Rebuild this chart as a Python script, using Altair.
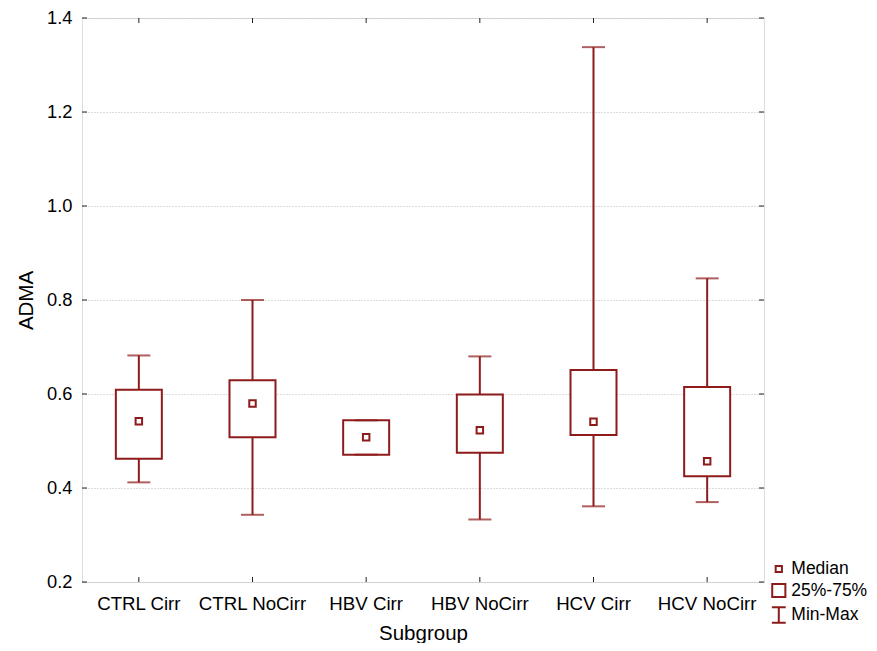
import altair as alt
import pandas as pd

# ---- data ----
groups = ["CTRL Cirr", "CTRL NoCirr", "HBV Cirr", "HBV NoCirr", "HCV Cirr", "HCV NoCirr"]
mins = [0.412, 0.343, 0.471, 0.333, 0.361, 0.370]
q1s = [0.462, 0.508, 0.471, 0.475, 0.513, 0.425]
medians = [0.542, 0.580, 0.508, 0.523, 0.541, 0.457]
q3s = [0.609, 0.629, 0.544, 0.599, 0.651, 0.615]
maxs = [0.682, 0.800, 0.544, 0.680, 1.338, 0.846]
y_ticks = [0.2, 0.4, 0.6, 0.8, 1.0, 1.2, 1.4]
legend_labels = ["Median", "25%-75%", "Min-Max"]

RED = "#8e1b1b"
FONT = "Liberation Sans"
W, H = 682, 564

df = pd.DataFrame({"group": groups, "min": mins, "q1": q1s, "median": medians,
                   "q3": q3s, "max": maxs})
ticks_df = pd.DataFrame({"v": y_ticks})
leg_df = pd.DataFrame({"item": legend_labels})

xenc = alt.X("group:N", sort=groups, title="Subgroup",
             scale=alt.Scale(paddingInner=0, paddingOuter=0),
             axis=alt.Axis(labelAngle=0, ticks=False, domain=False, grid=False,
                           labelFontSize=18.7, labelPadding=12, titleFontSize=20.5,
                           titleFontWeight="normal", titlePadding=11,
                           labelFont=FONT, titleFont=FONT, labelColor="black",
                           titleColor="black"))
yscale = alt.Scale(domain=[0.2, 1.4], nice=False, zero=False)
yaxis = alt.Axis(values=y_ticks, format=".1f", ticks=False, domain=False, grid=True,
                 gridDash=[1, 2], gridColor="#b8b8b8", gridWidth=1,
                 labelFontSize=18.3, labelPadding=10, titleFontSize=20.5,
                 titleFontWeight="normal", titlePadding=10, labelFont=FONT,
                 titleFont=FONT, labelColor="black", titleColor="black")

base = alt.Chart(df)

whisker = base.mark_rule(color=RED, strokeWidth=2).encode(
    x=xenc,
    y=alt.Y("min:Q", scale=yscale, axis=yaxis, title="ADMA"),
    y2="max:Q")

caps_hi = base.mark_tick(color=RED, size=23, thickness=2).encode(
    x=alt.X("group:N", sort=groups), y="max:Q")
caps_lo = base.mark_tick(color=RED, size=23, thickness=2).encode(
    x=alt.X("group:N", sort=groups), y="min:Q")

box = base.mark_bar(size=46, fill="white", stroke=RED, strokeWidth=2).encode(
    x=alt.X("group:N", sort=groups), y="q1:Q", y2="q3:Q")

med = base.mark_square(size=42, fill="white", stroke=RED, strokeWidth=2,
                       opacity=1).encode(
    x=alt.X("group:N", sort=groups), y="median:Q")

# inward ticks on the frame
tick_l = alt.Chart(ticks_df).mark_rule(color="#222", strokeWidth=1).encode(
    y="v:Q", x=alt.value(0), x2=alt.value(5))
tick_r = alt.Chart(ticks_df).mark_rule(color="#222", strokeWidth=1).encode(
    y="v:Q", x=alt.value(W), x2=alt.value(W - 5))
tick_b = base.mark_rule(color="#222", strokeWidth=1).encode(
    x=alt.X("group:N", sort=groups), y=alt.value(H), y2=alt.value(H - 5))
tick_t = base.mark_rule(color="#222", strokeWidth=1).encode(
    x=alt.X("group:N", sort=groups), y=alt.value(0), y2=alt.value(5))

shape_paths = [
    "M-0.36,-0.36H0.36V0.36H-0.36Z",
    "M-0.76,-0.76H0.76V0.76H-0.76Z",
    "M-0.8,-0.9H0.8M0,-0.9V0.9M-0.8,0.9H0.8",
]
legend_layer = alt.Chart(leg_df).mark_point(opacity=0, color=RED).encode(
    shape=alt.Shape("item:N",
                    scale=alt.Scale(domain=legend_labels, range=shape_paths),
                    legend=alt.Legend(title=None, orient="none", legendX=686.8,
                                      legendY=541, symbolSize=300,
                                      symbolStrokeColor=RED,
                                      symbolFillColor="transparent",
                                      symbolStrokeWidth=2, symbolOpacity=1,
                                      labelFont=FONT, labelFontSize=17.5,
                                      labelColor="black", labelOffset=2.5,
                                      rowPadding=1.5, padding=0)))

chart = alt.layer(whisker, box, caps_hi, caps_lo, med,
                  tick_l, tick_r, tick_b, tick_t, legend_layer).properties(
    width=W, height=H,
    autosize=alt.AutoSizeParams(type="none"),
    padding={"left": 74, "top": 10, "right": 105, "bottom": 61},
).configure_view(stroke="#222", strokeWidth=1.5).configure(background="white")

chart.save("out.html", embed_options={"renderer": "svg", "actions": False})
